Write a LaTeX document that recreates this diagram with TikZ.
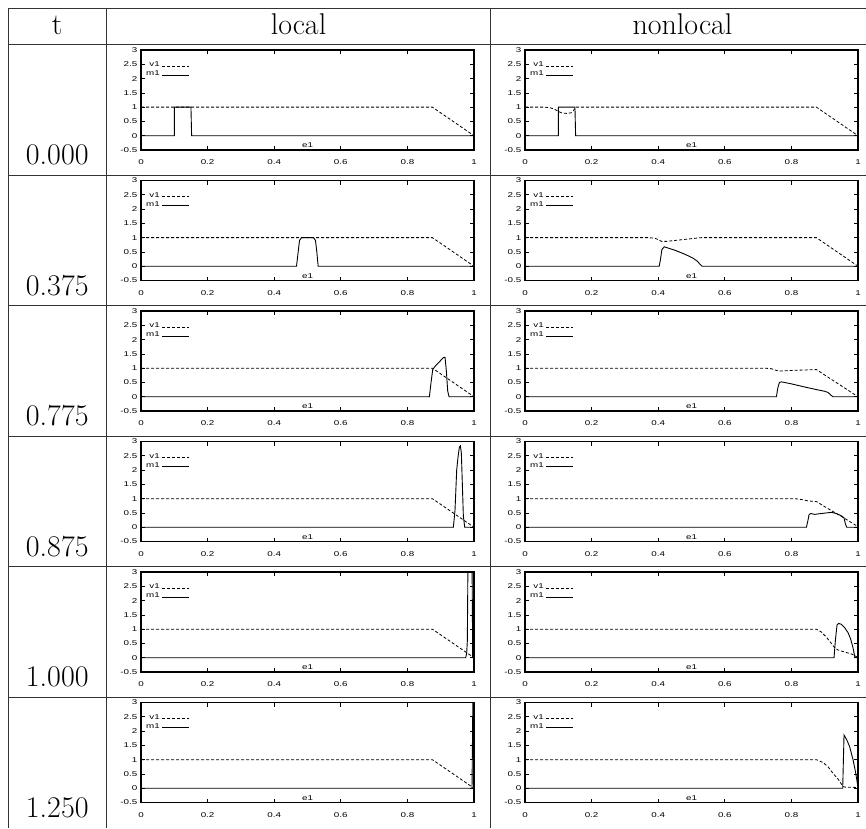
\documentclass[tikz,border=0pt]{standalone}
\usepackage{fontspec}
\setmainfont{Latin Modern Roman}
\newfontfamily\plotfont{Liberation Sans}
\usepackage{graphicx}
\tikzset{
  tline/.style={line width=0.8pt, draw=black!80},
  frame/.style={line width=1.1pt, draw=black},
  tick/.style={line width=0.7pt},
  lab/.style={font=\plotfont\fontsize{7}{8}\selectfont, inner sep=0pt},
  vcurve/.style={line width=0.8pt, dash pattern=on 3pt off 2pt},
  mcurve/.style={line width=0.9pt},
  hdr/.style={font=\fontsize{30}{36}\selectfont, inner sep=0pt, anchor=base}
}
\newcommand\sx[1]{\scalebox{1.4}[1]{#1}}
\newcommand\gnuplotbox[4]{%
\begin{scope}[shift={(#2,#3+85.714)}, x=333pt, y=28.5714pt]
  \begin{scope}
    \clip (0,-0.5) rectangle (1,3);
    #4
  \end{scope}
  \draw[frame] (0,-0.5) rectangle (1,3);
  \foreach \xx in {0.2,0.4,0.6,0.8}{%
    \draw[tick] (\xx,-0.5) -- ++(0,4pt);
    \draw[tick] (\xx,3) -- ++(0,-4pt);}
  \foreach \yy in {0,0.5,1,1.5,2,2.5}{%
    \draw[tick] (0,\yy) -- ++(4pt,0);
    \draw[tick] (1,\yy) -- ++(-4pt,0);}
  \foreach \yy [count=\k] in {3,2.5,2,1.5,1,0.5,0,-0.5}{%
    \node[lab,anchor=east] (#1y\k) at ([xshift=-3.5pt]0,\yy) {\sx{\yy}};}
  \foreach \xx [count=\k] in {0,0.2,0.4,0.6,0.8,1}{%
    \node[lab] (#1x\k) at ([yshift=-12.5pt]\xx,-0.5) {\sx{\xx}};}
  \node[lab,anchor=east] (#1v) at ([xshift=19pt]0,2.5) {\sx{v1}};
  \node[lab,anchor=east] (#1m) at ([xshift=19pt]0,2.19) {\sx{m1}};
  \coordinate (#1va) at ([xshift=21pt]0,2.43);
  \coordinate (#1vb) at ([xshift=48pt]0,2.43);
  \coordinate (#1ma) at ([xshift=21pt]0,2.12);
  \coordinate (#1mb) at ([xshift=48pt]0,2.12);
  \draw[vcurve] (#1va) -- (#1vb);
  \draw[mcurve] (#1ma) -- (#1mb);
  \node[lab] (#1e) at (0.5,-0.34) {\sx{e1}};
\end{scope}}
\newcommand\vlocal{\draw[vcurve] (0,1) -- (0.875,1) -- (1,0);}
\begin{document}
\begin{tikzpicture}[x=1pt, y=-1pt]
\useasboundingbox (0,0) rectangle (866,828);
% headers
\node[hdr] (ht) at (57.25,34) {t};
\node[hdr] (hl) at (298.5,34) {local};
\node[hdr] (hn) at (682.5,34) {nonlocal};
% time labels
\foreach \tt [count=\k] in {0.000,0.375,0.775,0.875,1.000,1.250}{%
  \node[hdr] (t\k) at (57.25,{175-10.5+130.5*(\k-1)}) {\tt};}
% row 1
\gnuplotbox{aL}{141}{50}{\vlocal
  \draw[mcurve] (0,0) -- (0.1,0) -- (0.1,1) -- (0.15,1) -- (0.152,0) -- (1,0);}
\gnuplotbox{aN}{525}{50}{%
  \draw[vcurve] (0,1) -- (0.06,1) -- (0.075,0.98) -- (0.09,0.92) -- (0.1,0.85) -- (0.11,0.8) -- (0.125,0.78) -- (0.138,0.8) -- (0.146,0.88) -- (0.15,0.97) -- (0.153,1) -- (0.875,1) -- (1,0);
  \draw[mcurve] (0,0) -- (0.1,0) -- (0.1,1) -- (0.15,1) -- (0.152,0) -- (1,0);}
% row 2
\gnuplotbox{bL}{141}{180.5}{\vlocal
  \draw[mcurve] (0,0) -- (0.467,0) -- (0.472,0.5) -- (0.476,0.9) -- (0.482,1) -- (0.518,1) -- (0.524,0.9) -- (0.528,0.5) -- (0.532,0) -- (1,0);}
\gnuplotbox{bN}{525}{180.5}{%
  \draw[vcurve] (0,1) -- (0.37,1) -- (0.39,0.98) -- (0.4,0.93) -- (0.41,0.87) -- (0.425,0.87) -- (0.52,0.99) -- (0.53,1) -- (0.875,1) -- (1,0);
  \draw[mcurve] (0,0) -- (0.403,0) -- (0.407,0.25) -- (0.411,0.58) -- (0.418,0.68) -- (0.45,0.56) -- (0.48,0.42) -- (0.505,0.28) -- (0.518,0.17) -- (0.526,0.06) -- (0.532,0) -- (1,0);}
% row 3
\gnuplotbox{cL}{141}{311}{\vlocal
  \draw[mcurve] (0,0) -- (0.866,0) -- (0.871,0.5) -- (0.876,0.95) -- (0.882,1.05) -- (0.908,1.37) -- (0.913,1.38) -- (0.917,0.9) -- (0.921,0.2) -- (0.925,0) -- (1,0);}
\gnuplotbox{cN}{525}{311}{%
  \draw[vcurve] (0,1) -- (0.72,1) -- (0.74,0.98) -- (0.755,0.92) -- (0.765,0.9) -- (0.8,0.92) -- (0.875,0.95) -- (1,0);
  \draw[mcurve] (0,0) -- (0.755,0) -- (0.759,0.3) -- (0.764,0.5) -- (0.77,0.52) -- (0.8,0.45) -- (0.84,0.34) -- (0.875,0.25) -- (0.9,0.19) -- (0.91,0.15) -- (0.918,0.06) -- (0.925,0) -- (1,0);}
% row 4
\gnuplotbox{dL}{141}{441.5}{\vlocal
  \draw[mcurve] (0,0) -- (0.938,0) -- (0.943,0.6) -- (0.948,2.0) -- (0.952,2.45) -- (0.956,2.8) -- (0.959,2.85) -- (0.962,2.6) -- (0.965,1.5) -- (0.968,0.4) -- (0.972,0) -- (1,0);}
\gnuplotbox{dN}{525}{441.5}{%
  \draw[vcurve] (0,1) -- (0.81,1) -- (0.83,0.97) -- (0.85,0.92) -- (0.875,0.9) -- (0.9,0.72) -- (0.95,0.38) -- (1,0.02);
  \draw[mcurve] (0,0) -- (0.845,0) -- (0.849,0.2) -- (0.853,0.44) -- (0.858,0.48) -- (0.87,0.45) -- (0.89,0.48) -- (0.92,0.52) -- (0.935,0.48) -- (0.95,0.4) -- (0.958,0.33) -- (0.962,0.12) -- (0.966,0) -- (1,0);}
% row 5
\gnuplotbox{eL}{141}{572}{\vlocal
  \draw[mcurve] (0,0) -- (0.975,0) -- (0.978,0.15) -- (0.98,0.6) -- (0.982,3.6) -- (0.994,3.6) -- (0.996,0) -- (1,0);}
\gnuplotbox{eN}{525}{572}{%
  \draw[vcurve] (0,1) -- (0.875,1) -- (0.89,0.9) -- (0.905,0.72) -- (0.92,0.5) -- (0.93,0.35) -- (0.94,0.27) -- (0.96,0.2) -- (0.98,0.13) -- (0.99,0.08) -- (1,0);
  \draw[mcurve] (0,0) -- (0.928,0) -- (0.932,0.6) -- (0.937,1.15) -- (0.942,1.2) -- (0.95,1.17) -- (0.96,1.05) -- (0.97,0.88) -- (0.978,0.65) -- (0.985,0.35) -- (0.99,0.05) -- (0.992,0) -- (1,0);}
% row 6
\gnuplotbox{fL}{141}{702.5}{\vlocal
  \draw[mcurve] (0,0) -- (0.994,0) -- (0.997,3.6) -- (1,3.6);}
\gnuplotbox{fN}{525}{702.5}{%
  \draw[vcurve] (0,1) -- (0.875,1) -- (0.895,0.9) -- (0.91,0.75) -- (0.925,0.52) -- (0.94,0.32) -- (0.95,0.15) -- (0.955,0.06) -- (0.96,0.04) -- (0.99,0.03) -- (1,0);
  \draw[mcurve] (0,0) -- (0.954,0) -- (0.958,1.86) -- (0.966,1.7) -- (0.975,1.45) -- (0.985,1.0) -- (0.992,0.6) -- (0.997,0.25) -- (1,0);}
% table rules
\foreach \yy in {8.5,44.5,175,305.5,436,566.5,697}{\draw[tline] (8,\yy) -- (866,\yy);}
\foreach \xx in {8,106.5,490.5}{\draw[tline] (\xx,8.5) -- (\xx,828);}
\end{tikzpicture}
\end{document}
